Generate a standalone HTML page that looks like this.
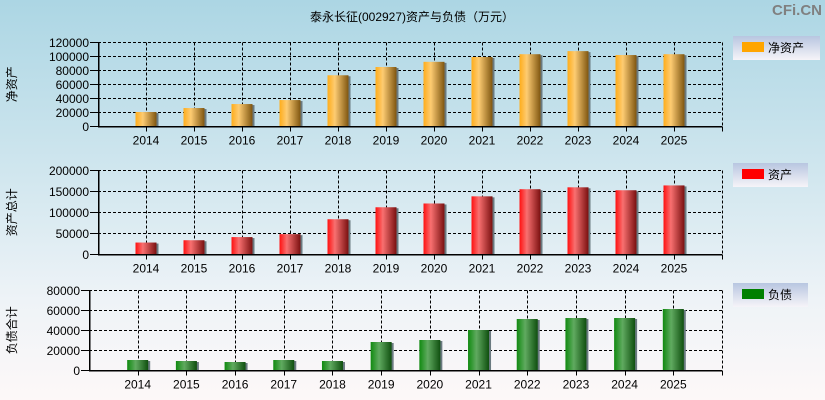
<!DOCTYPE html>
<html><head><meta charset="utf-8">
<style>
html,body{margin:0;padding:0;}
body{width:825px;height:400px;overflow:hidden;background:linear-gradient(#acd6e4 0%,#d2e7ef 45%,#eef3f7 75%,#fdf8f8 100%);font-family:"Liberation Sans","Noto Sans CJK SC",sans-serif;}
svg{position:absolute;left:0;top:0;}
line{shape-rendering:crispEdges;}
</style></head>
<body>
<svg id="c" width="825" height="400" xmlns="http://www.w3.org/2000/svg">
<defs>
<linearGradient id="gO" x1="0" x2="1" y1="0" y2="0"><stop offset="0" stop-color="#ffad1a"/><stop offset="0.35" stop-color="#fdcb72"/><stop offset="1" stop-color="#7f5610"/></linearGradient>
<linearGradient id="gR" x1="0" x2="1" y1="0" y2="0"><stop offset="0" stop-color="#ff1010"/><stop offset="0.35" stop-color="#f87070"/><stop offset="1" stop-color="#7a1010"/></linearGradient>
<linearGradient id="gG" x1="0" x2="1" y1="0" y2="0"><stop offset="0" stop-color="#108a10"/><stop offset="0.4" stop-color="#60aa60"/><stop offset="1" stop-color="#0f4f0f"/></linearGradient>
<linearGradient id="gL" x1="0" x2="0" y1="0" y2="1"><stop offset="0" stop-color="#b8c6e0"/><stop offset="1" stop-color="#f6f4f8"/></linearGradient>
</defs>
<text x="412" y="21" text-anchor="middle" font-size="12" fill="#000">泰永长征(002927)资产与负债（万元）</text>
<text x="822" y="15" text-anchor="end" font-size="15" font-weight="bold" fill="#808080">CFi.CN</text>
</svg>
<script>
const years=["2014","2015","2016","2017","2018","2019","2020","2021","2022","2023","2024","2025"];
const netAssets=[20400,26100,31800,37500,72900,84700,92100,99000,103000,107400,101800,103000];
const totalAssets=[28000,33500,41000,48000,83500,112000,121000,138000,155000,159500,152500,164000];
const liabilities=[10300,9300,8300,10300,9300,28300,30300,40300,51300,52300,52300,61300];
const ticksTop=[0,20000,40000,60000,80000,100000,120000];
const ticksMid=[0,50000,100000,150000,200000];
const ticksBot=[0,20000,40000,60000,80000];
const NS="http://www.w3.org/2000/svg";
const svg=document.getElementById('c');
function mk(tag,attrs,parent){const e=document.createElementNS(NS,tag);for(const k in attrs)e.setAttribute(k,attrs[k]);(parent||svg).appendChild(e);return e;}
function panel(cfg){
  const g=mk('g',{});
  
  
  const {x0,x1,y0,y1,ticks,vals,fill}=cfg;
  const max=ticks[ticks.length-1];
  const ys=v=>y1-(v/max)*(y1-y0);
  const step=(x1-x0)/(years.length+1);
  const xs=i=>x0+step*(i+1);
  const px=v=>Math.round(v)+0.5;
  ticks.forEach(t=>{if(t>0){const l=mk('line',{x1:x0,x2:x1,y1:px(ys(t)),y2:px(ys(t)),stroke:'#000','stroke-dasharray':'3,2','stroke-width':1},g);}});
  years.forEach((y,i)=>{const l=mk('line',{x1:px(xs(i)),x2:px(xs(i)),y1:y0,y2:y1,stroke:'#000','stroke-dasharray':'3,2','stroke-width':1},g);});
  mk('line',{x1:px(x1),x2:px(x1),y1:y0,y2:y1,stroke:'#000','stroke-dasharray':'3,2'},g);
  vals.forEach((v,i)=>{
    const bx=xs(i)-10.5, by=ys(v), h=y1-by;
    mk('rect',{x:bx+2,y:by+1,width:21,height:h-1,fill:'#6a7a80'},g);
    const b=mk('rect',{x:bx,y:by,width:21,height:h,fill:fill},g);
    
    
  });
  mk('line',{x1:px(x0),x2:px(x0),y1:y0,y2:y1,stroke:'#000','stroke-width':1.5},g);
  mk('line',{x1:x0,x2:x1,y1:px(y1),y2:px(y1),stroke:'#000','stroke-width':1.5},g);
  mk('line',{x1:px(x1),x2:px(x1),y1:y1,y2:y1+5,stroke:'#000'},g);
  ticks.forEach(t=>{
    mk('line',{x1:x0-8,x2:x0,y1:px(ys(t)),y2:px(ys(t)),stroke:'#000'},g);
    const tx=mk('text',{x:x0-9,y:ys(t)+4.5,'text-anchor':'end','font-size':12,fill:'#000'},g);
    tx.textContent=t;
    
    
  });
  years.forEach((y,i)=>{
    mk('line',{x1:px(xs(i)),x2:px(xs(i)),y1:y1,y2:y1+5,stroke:'#000'},g);
    const tx=mk('text',{x:xs(i),y:y1+18,'text-anchor':'middle','font-size':12,fill:'#000'},g);
    tx.textContent=y;
    
    
  });
  const cy=(y0+y1)/2;
  const at=mk('text',{x:0,y:0,'text-anchor':'middle','font-size':12,fill:'#000',transform:`translate(${cfg.titleX},${cy}) rotate(-90)`},g);
  at.textContent=cfg.title;
  
  
  const lg=mk('g',{},g);
  
  
  mk('rect',{x:733,y:cfg.ly,width:cfg.lw,height:24,fill:'url(#gL)'},lg);
  mk('rect',{x:742,y:cfg.ly+6,width:22,height:10,fill:cfg.lc},lg);
  const lt=mk('text',{x:768,y:cfg.ly+16,'font-size':12,fill:'#000'},lg);
  lt.textContent=cfg.title2;
}
panel({name:'net-assets',x0:98,x1:722,y0:42.3,y1:126.3,ticks:ticksTop,vals:netAssets,fill:'url(#gO)',title:'净资产',title2:'净资产',titleX:16,ly:36,lw:87,lc:'#ffa500'});
panel({name:'total-assets',x0:98,x1:722,y0:170.3,y1:254.3,ticks:ticksMid,vals:totalAssets,fill:'url(#gR)',title:'资产总计',title2:'资产',titleX:16,ly:163,lw:75,lc:'#ff0000'});
panel({name:'liabilities',x0:89,x1:722,y0:290.3,y1:370.3,ticks:ticksBot,vals:liabilities,fill:'url(#gG)',title:'负债合计',title2:'负债',titleX:16,ly:283,lw:75,lc:'#008000'});
</script>
</body></html>
